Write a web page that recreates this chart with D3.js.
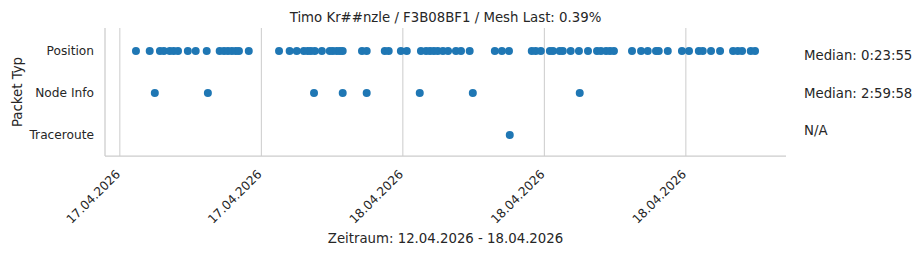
<!DOCTYPE html>
<html>
<head>
<meta charset="utf-8">
<script src="https://cdn.jsdelivr.net/npm/d3@7"></script>
<style>
  body { margin: 0; background: #fff; }
  text { font-family: "DejaVu Sans", sans-serif; fill: #262626; }
</style>
</head>
<body>
<div id="chart"></div>
<script>
var width = 923;
var height = 255;

var title = "Timo Kr##nzle / F3B08BF1 / Mesh Last: 0.39%";
var xTitle = "Zeitraum: 12.04.2026 - 18.04.2026";
var yTitle = "Packet Typ";

var categories = ["Position", "Node Info", "Traceroute"];
var medians = ["Median: 0:23:55", "Median: 2:59:58", "N/A"];

// packet timestamps per type
var positionTimes = [
  "2026-04-17 12:41", "2026-04-17 13:16", "2026-04-17 13:42", "2026-04-17 13:52",
  "2026-04-17 14:07", "2026-04-17 14:17", "2026-04-17 14:28", "2026-04-17 14:53",
  "2026-04-17 15:13", "2026-04-17 15:41", "2026-04-17 16:14", "2026-04-17 16:25",
  "2026-04-17 16:35", "2026-04-17 16:45", "2026-04-17 16:55", "2026-04-17 17:03",
  "2026-04-17 17:28", "2026-04-17 18:45", "2026-04-17 19:12", "2026-04-17 19:30",
  "2026-04-17 19:48", "2026-04-17 19:58", "2026-04-17 20:06", "2026-04-17 20:16",
  "2026-04-17 20:34", "2026-04-17 20:54", "2026-04-17 21:02", "2026-04-17 21:12",
  "2026-04-17 21:20", "2026-04-17 21:27", "2026-04-17 22:16", "2026-04-17 22:28",
  "2026-04-17 23:14", "2026-04-17 23:24", "2026-04-17 23:55", "2026-04-18 00:10",
  "2026-04-18 00:46", "2026-04-18 00:59", "2026-04-18 01:09", "2026-04-18 01:19",
  "2026-04-18 01:29", "2026-04-18 01:42", "2026-04-18 01:55", "2026-04-18 02:15",
  "2026-04-18 02:28", "2026-04-18 02:50", "2026-04-18 03:54", "2026-04-18 04:12",
  "2026-04-18 04:30", "2026-04-18 05:28", "2026-04-18 05:38", "2026-04-18 05:51",
  "2026-04-18 06:14", "2026-04-18 06:22", "2026-04-18 06:39", "2026-04-18 06:47",
  "2026-04-18 07:07", "2026-04-18 07:28", "2026-04-18 07:51", "2026-04-18 08:14",
  "2026-04-18 08:24", "2026-04-18 08:37", "2026-04-18 08:47", "2026-04-18 08:57",
  "2026-04-18 09:43", "2026-04-18 10:06", "2026-04-18 10:23", "2026-04-18 10:44",
  "2026-04-18 10:51", "2026-04-18 11:14", "2026-04-18 11:50", "2026-04-18 12:08",
  "2026-04-18 12:33", "2026-04-18 12:43", "2026-04-18 13:04", "2026-04-18 13:27",
  "2026-04-18 14:00", "2026-04-18 14:12", "2026-04-18 14:23", "2026-04-18 14:45",
  "2026-04-18 14:56"
];
var nodeInfoTimes = [
  "2026-04-17 13:29", "2026-04-17 15:44", "2026-04-17 20:14", "2026-04-17 21:27",
  "2026-04-17 22:28", "2026-04-18 00:43", "2026-04-18 02:58", "2026-04-18 07:30"
];
var tracerouteTimes = ["2026-04-18 04:32"];

var parseTime = d3.timeParse("%Y-%m-%d %H:%M");

var points = [];
[positionTimes, nodeInfoTimes, tracerouteTimes].forEach(function(list, i) {
  list.forEach(function(t) {
    points.push({ type: categories[i], time: parseTime(t) });
  });
});

var margin = { top: 28, right: 137, bottom: 99, left: 105 };
var plotW = width - margin.left - margin.right;
var plotH = height - margin.top - margin.bottom;

var svg = d3.select("#chart").append("svg")
  .attr("width", width)
  .attr("height", height);

// matplotlib style 5% margin around the data
var ext = d3.extent(points, function(d) { return d.time; });
var pad = (ext[1] - ext[0]) * 0.05;
var x = d3.scaleTime()
  .domain([new Date(+ext[0] - pad), new Date(+ext[1] + pad)])
  .range([margin.left, margin.left + plotW]);

var y = d3.scalePoint()
  .domain(categories)
  .range([margin.top + 2, margin.top + plotH])
  .padding(0.5);

var ticks = x.ticks(d3.timeHour.every(6));

// vertical grid
svg.append("g").selectAll("line")
  .data(ticks)
  .enter().append("line")
    .attr("x1", function(d) { return x(d); })
    .attr("x2", function(d) { return x(d); })
    .attr("y1", margin.top)
    .attr("y2", margin.top + plotH)
    .attr("stroke", "#cccccc")
    .attr("stroke-width", 1);

// spines (left + bottom only)
svg.append("line")
  .attr("x1", margin.left).attr("x2", margin.left)
  .attr("y1", margin.top).attr("y2", margin.top + plotH)
  .attr("stroke", "#cccccc").attr("stroke-width", 1.25);
svg.append("line")
  .attr("x1", margin.left).attr("x2", margin.left + plotW)
  .attr("y1", margin.top + plotH).attr("y2", margin.top + plotH)
  .attr("stroke", "#cccccc").attr("stroke-width", 1.25);

// x tick labels, rotated 45deg, right aligned
var fmt = d3.timeFormat("%d.%m.%Y");
svg.append("g").selectAll("text")
  .data(ticks)
  .enter().append("text")
    .attr("transform", function(d) {
      return "translate(" + (x(d) - 2) + "," + (margin.top + plotH + 16) + ") rotate(-45)";
    })
    .attr("text-anchor", "end")
    .attr("dy", "0.35em")
    .style("font-size", "12.2px")
    .text(fmt);

// y tick labels
svg.append("g").selectAll("text")
  .data(categories)
  .enter().append("text")
    .attr("x", margin.left - 11)
    .attr("y", function(d) { return y(d); })
    .attr("dy", "0.35em")
    .attr("text-anchor", "end")
    .style("font-size", "12.2px")
    .text(function(d) { return d; });

// points
svg.append("g").selectAll("circle")
  .data(points)
  .enter().append("circle")
    .attr("cx", function(d) { return x(d.time); })
    .attr("cy", function(d) { return y(d.type); })
    .attr("r", 4)
    .attr("fill", "#1f77b4");

// median annotations on the right
var annOffset = [4, 0, -5];
svg.append("g").selectAll("text")
  .data(medians)
  .enter().append("text")
    .attr("x", 804)
    .attr("y", function(d, i) { return y(categories[i]) + annOffset[i]; })
    .attr("dy", "0.35em")
    .style("font-size", "13.3px")
    .text(function(d) { return d; });

// titles
svg.append("text")
  .attr("x", margin.left + plotW / 2)
  .attr("y", 17)
  .attr("dy", "0.35em")
  .attr("text-anchor", "middle")
  .style("font-size", "13.3px")
  .text(title);

svg.append("text")
  .attr("x", margin.left + plotW / 2)
  .attr("y", 238)
  .attr("dy", "0.35em")
  .attr("text-anchor", "middle")
  .style("font-size", "13.3px")
  .text(xTitle);

svg.append("text")
  .attr("transform", "translate(17," + (margin.top + plotH / 2) + ") rotate(-90)")
  .attr("dy", "0.35em")
  .attr("text-anchor", "middle")
  .style("font-size", "13.3px")
  .text(yTitle);
</script>
</body>
</html>
